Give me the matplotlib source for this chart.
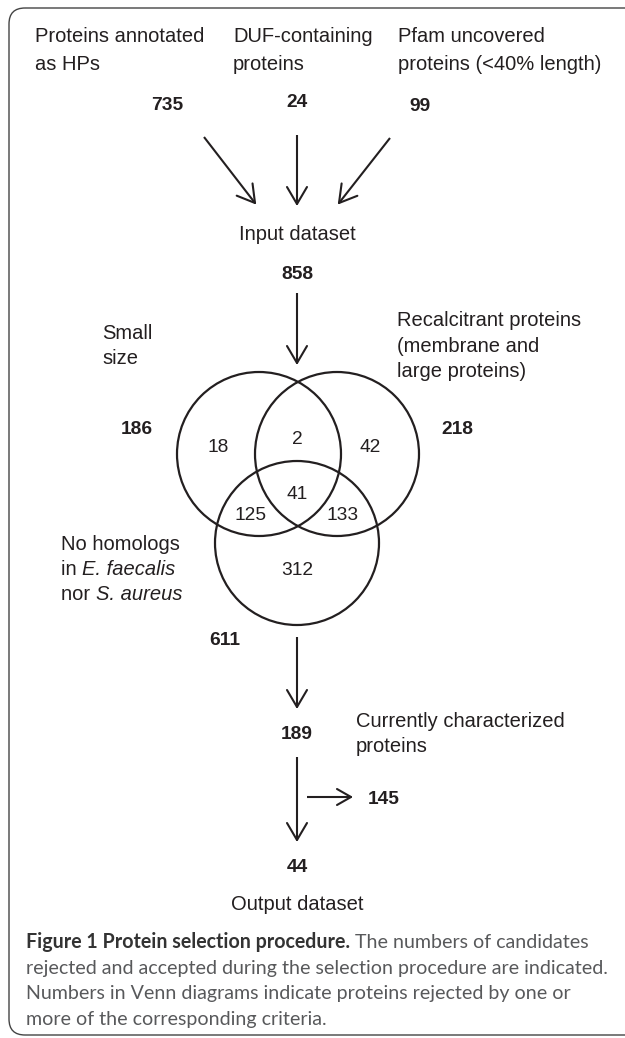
import numpy as np
import matplotlib
matplotlib.use('Agg')
import matplotlib.pyplot as plt
from matplotlib.patches import Circle, FancyBboxPatch
from matplotlib import font_manager

DIAG_FONT = 'Liberation Sans'
plt.rcParams['font.family'] = 'sans-serif'
plt.rcParams['font.sans-serif'] = [DIAG_FONT, 'DejaVu Sans']

# --- data ---
source_labels = [["Proteins annotated", "as HPs"],
                 ["DUF-containing", "proteins"],
                 ["Pfam uncovered", "proteins (<40% length)"]]
source_counts = [735, 24, 99]
input_label = "Input dataset"
input_count = 858

set_labels = [[[("Small", "normal")], [("size", "normal")]],
              [[("Recalcitrant proteins", "normal")], [("(membrane and", "normal")],
               [("large proteins)", "normal")]],
              [[("No homologs", "normal")], [("in ", "normal"), ("E. faecalis", "italic")],
               [("nor ", "normal"), ("S. aureus", "italic")]]]
set_totals = [186, 218, 611]
# regions: A only, A&B, B only, A&B&C, A&C, B&C, C only
venn_regions = ["A", "AB", "B", "ABC", "AC", "BC", "C"]
venn_counts = [18, 2, 42, 41, 125, 133, 312]

remaining_count = 189
characterized_label = ["Currently characterized", "proteins"]
characterized_count = 145
output_count = 44
output_label = "Output dataset"

caption_bold = "Figure 1 Protein selection procedure."
caption_lines = [" The numbers of candidates",
                 "rejected and accepted during the selection procedure are indicated.",
                 "Numbers in Venn diagrams indicate proteins rejected by one or",
                 "more of the corresponding criteria."]

# --- layout (pixels) ---
W, H = 625, 1038
CX = 297
INK = '#231f20'

fig = plt.figure(figsize=(W / 100, H / 100), dpi=100)
ax = fig.add_axes([0, 0, 1, 1])
ax.set_xlim(0, W)
ax.set_ylim(H, 0)
ax.axis('off')
renderer = fig.canvas.get_renderer()


def fit_size(s, target, **kw):
    t = ax.text(0, 0, s, fontsize=10, **kw)
    w = t.get_window_extent(renderer=renderer).width
    t.remove()
    return 10 * target / w


LBL = fit_size("Proteins annotated", 170, family=DIAG_FONT)
NUM = fit_size("735", 32, fontweight='bold', family=DIAG_FONT)
cap_font = ['Lato', 'DejaVu Sans']
CAP = fit_size(caption_lines[1], 583, family=cap_font)

ax.add_patch(FancyBboxPatch((9, 8), 640, 1027, boxstyle="round,pad=0,rounding_size=16",
                            fc='none', ec='#444444', lw=1.0, clip_on=False))


def arrow(x0, y0, x1, y1, hl=17, hw=10):
    d = np.array([x1 - x0, y1 - y0], float)
    d /= np.hypot(*d)
    n = np.array([-d[1], d[0]])
    tip = np.array([x1, y1])
    base = tip - d * hl
    ax.plot([x0, x1], [y0, y1], color=INK, lw=1.5, solid_capstyle='butt')
    for s in (1, -1):
        p = base + s * n * hw
        ax.plot([p[0], tip[0]], [p[1], tip[1]], color=INK, lw=1.5, solid_capstyle='round')


def rich(x, y, segs, size, color=INK, family=DIAG_FONT):
    for s, style in segs:
        kw = dict(ha='left', va='baseline', fontsize=size, color=color, family=family)
        if style == 'bold':
            kw['fontweight'] = 'bold'
        elif style == 'italic':
            kw['fontstyle'] = 'italic'
        t = ax.text(x, y, s, **kw)
        x = t.get_window_extent(renderer=renderer).x1
    return x


def lines(x, y0, txts, step):
    for i, t in enumerate(txts):
        segs = [(t, 'normal')] if isinstance(t, str) else t
        rich(x, y0 + i * step, segs, LBL)


def num(x, y, v, bold=True, ha='center'):
    ax.text(x, y, str(v), ha=ha, va='baseline', fontsize=NUM, family=DIAG_FONT,
            fontweight='bold' if bold else 'normal', color=INK)


# sources
src_x = [35, 233, 398]
src_num_pos = [(167, 110), (297, 107), (420, 111)]
for x, lab in zip(src_x, source_labels):
    lines(x, 42, lab, 27.5)
for (x, y), c in zip(src_num_pos, source_counts):
    num(x, y, c)
arrow(204, 137, 255, 203)
arrow(CX, 135, CX, 204)
arrow(390, 138, 339, 203)

ax.text(CX, 240, input_label, ha='center', va='baseline', fontsize=LBL, color=INK, family=DIAG_FONT)
num(CX, 279, input_count)
arrow(CX, 293, CX, 363)

# venn
R = 82
centers = {"A": (259, 454), "B": (337, 454), "C": (297, 543)}
for k in "ABC":
    ax.add_patch(Circle(centers[k], R, fc='none', ec=INK, lw=1.6))
region_pos = {"A": (218, 452), "AB": (297, 444), "B": (370, 452), "ABC": (297, 499),
              "AC": (250, 520), "BC": (343, 520), "C": (297, 575)}
for r, c in zip(venn_regions, venn_counts):
    num(*region_pos[r], c, bold=False)

lines(102, 339, set_labels[0], 25)
lines(397, 326, set_labels[1], 25.5)
lines(61, 550, set_labels[2], 25)
total_pos = [(137, 434), (457, 434), (225, 645)]
for (x, y), c in zip(total_pos, set_totals):
    num(x, y, c)

arrow(CX, 637, CX, 707)
num(CX, 739, remaining_count)
lines(356, 727, characterized_label, 25)
arrow(CX, 757, CX, 840)
arrow(307, 797, 351, 797, hl=14, hw=8)
num(368, 804, characterized_count, ha='left')
num(CX, 872, output_count)
ax.text(CX, 910, output_label, ha='center', va='baseline', fontsize=LBL, color=INK, family=DIAG_FONT)

# caption
x_end = rich(26, 948, [(caption_bold, 'bold')], CAP, color='#333333', family=cap_font)
for i, s in enumerate(caption_lines):
    x = x_end if i == 0 else 26
    rich(x, 948 + i * 25.7, [(s, 'normal')], CAP, color='#58595b', family=cap_font)

fig.savefig('out.png', dpi=100)
